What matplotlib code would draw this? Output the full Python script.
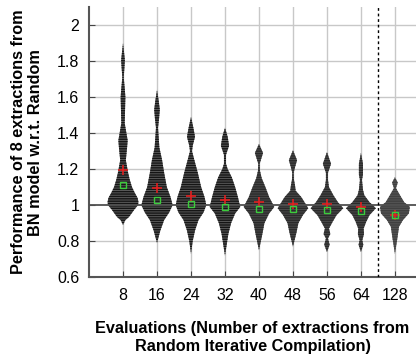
import matplotlib.pyplot as plt
import numpy as np

plt.rcParams['font.family'] = ['Liberation Sans', 'DejaVu Sans']
plt.rcParams['hatch.linewidth'] = 1.0

labels = ['8', '16', '24', '32', '40', '48', '56', '64', '128']

# density outlines: y value and half width
y8 = [0.89, 0.917, 0.935, 0.972, 1.0, 1.017, 1.04, 1.067, 1.10, 1.14, 1.18, 1.25, 1.32, 1.36, 1.40, 1.455, 1.53, 1.60, 1.65, 1.71, 1.76, 1.806, 1.85, 1.90]
w8 = [0.0, 0.07, 0.18, 0.32, 0.44, 0.455, 0.43, 0.35, 0.265, 0.20, 0.15, 0.083, 0.12, 0.137, 0.10, 0.05, 0.06, 0.07, 0.05, 0.02, 0.04, 0.055, 0.03, 0.0]

y16 = [0.79, 0.86, 0.917, 0.96, 1.0, 1.044, 1.10, 1.18, 1.25, 1.32, 1.43, 1.48, 1.53, 1.58, 1.64]
w16 = [0.0, 0.10, 0.21, 0.36, 0.46, 0.40, 0.29, 0.21, 0.15, 0.07, 0.03, 0.06, 0.083, 0.05, 0.0]

y24 = [0.73, 0.80, 0.86, 0.917, 0.96, 1.0, 1.044, 1.10, 1.18, 1.25, 1.30, 1.33, 1.38, 1.43, 1.49]
w24 = [0.0, 0.05, 0.12, 0.22, 0.37, 0.45, 0.40, 0.30, 0.20, 0.10, 0.03, 0.05, 0.118, 0.07, 0.0]

y32 = [0.72, 0.84, 0.90, 0.954, 0.99, 1.045, 1.10, 1.155, 1.20, 1.23, 1.28, 1.33, 1.38, 1.43]
w32 = [0.0, 0.10, 0.18, 0.30, 0.45, 0.38, 0.30, 0.20, 0.08, 0.03, 0.03, 0.12, 0.08, 0.0]

y40 = [0.75, 0.84, 0.90, 0.954, 0.99, 1.045, 1.10, 1.15, 1.19, 1.23, 1.29, 1.34]
w40 = [0.0, 0.10, 0.16, 0.30, 0.45, 0.30, 0.19, 0.08, 0.03, 0.02, 0.12, 0.0]

y48 = [0.77, 0.845, 0.90, 0.944, 0.983, 1.045, 1.08, 1.11, 1.14, 1.18, 1.21, 1.25, 1.305]
w48 = [0.0, 0.10, 0.16, 0.29, 0.45, 0.245, 0.08, 0.06, 0.03, 0.02, 0.06, 0.12, 0.0]

y56 = [0.74, 0.78, 0.815, 0.84, 0.87, 0.905, 0.944, 0.983, 1.017, 1.055, 1.10, 1.14, 1.18, 1.23, 1.295]
w56 = [0.0, 0.08, 0.03, 0.10, 0.06, 0.16, 0.28, 0.48, 0.32, 0.19, 0.06, 0.03, 0.03, 0.12, 0.0]

y64 = [0.74, 0.78, 0.805, 0.84, 0.87, 0.905, 0.944, 0.983, 1.017, 1.055, 1.085, 1.14, 1.17, 1.23, 1.29]
w64 = [0.0, 0.07, 0.04, 0.09, 0.08, 0.15, 0.25, 0.44, 0.25, 0.10, 0.06, 0.03, 0.06, 0.06, 0.0]

y128 = [0.73, 0.82, 0.88, 0.917, 0.954, 0.99, 1.017, 1.055, 1.095, 1.125, 1.155]
w128 = [0.0, 0.075, 0.12, 0.235, 0.41, 0.44, 0.27, 0.15, 0.03, 0.085, 0.0]

means = [1.194, 1.096, 1.05, 1.028, 1.018, 1.006, 1.004, 0.99, 0.945]
medians = [1.11, 1.03, 1.007, 0.987, 0.98, 0.976, 0.974, 0.97, 0.943]

shapes = [(y8, w8), (y16, w16), (y24, w24), (y32, w32), (y40, w40),
          (y48, w48), (y56, w56), (y64, w64), (y128, w128)]

fig = plt.figure(figsize=(4.16, 3.59), dpi=100)
ax = fig.add_axes([0.214, 0.228, 0.786, 0.752])

pos = np.arange(1, len(labels) + 1)

for p in pos:
    ax.axvline(p, color='#c8c8c8', lw=1.0, zorder=0)
for t in [0.6, 0.8, 1.2, 1.4, 1.6, 1.8, 2.0]:
    ax.axhline(t, color='#c8c8c8', lw=1.0, zorder=0)

for i, (p, (ys, ws)) in enumerate(zip(pos, shapes)):
    ys = np.array(ys)
    ws = np.array(ws)
    # the first violins show clearer stripes than the later ones
    if i < 4:
        fc, hc = '#5a5a5a', '#151515'
    elif i < 8:
        fc, hc = '#4a4a4a', '#2a2a2a'
    else:
        fc, hc = '#555555', '#404040'
    ax.fill_betweenx(ys, p - ws, p + ws, facecolor=fc,
                     edgecolor=hc, hatch='-------', lw=0, zorder=2)

ax.axhline(1.0, color='#505050', lw=1.3, zorder=3)
ax.axvline(8.5, color='black', lw=1.0, ls=(0, (2, 2)), zorder=3)

ax.plot(pos, means, ls='none', marker='+', ms=7, mew=1.2,
        color='#e02020', zorder=5)
ax.plot(pos, medians, ls='none', marker='s', ms=4, mew=1.0,
        mfc='none', mec='#3ccc3c', zorder=6)

ax.set_xlim(0, 9.62)
ax.set_ylim(0.6, 2.1)
ax.set_xticks(pos)
ax.set_xticklabels(labels)
ax.set_yticks([0.6, 0.8, 1, 1.2, 1.4, 1.6, 1.8, 2])
ax.set_yticklabels(['0.6', '0.8', '1', '1.2', '1.4', '1.6', '1.8', '2'])
ax.tick_params(direction='in', length=4, labelsize=11.5, color='#444444',
               pad=7)
ax.tick_params(axis='x', pad=8)

for s in ['top', 'right']:
    ax.spines[s].set_visible(False)
for s in ['left', 'bottom']:
    ax.spines[s].set_color('#555555')
    ax.spines[s].set_linewidth(1.5)

ax.set_xlabel('Evaluations (Number of extractions from\nRandom Iterative Compilation)',
              fontsize=11.7, fontweight='bold', labelpad=13)
ax.set_ylabel('Performance of 8 extractions from\nBN model w.r.t. Random',
              fontsize=11.7, fontweight='bold', labelpad=10)

fig.savefig('out.png', dpi=100)
